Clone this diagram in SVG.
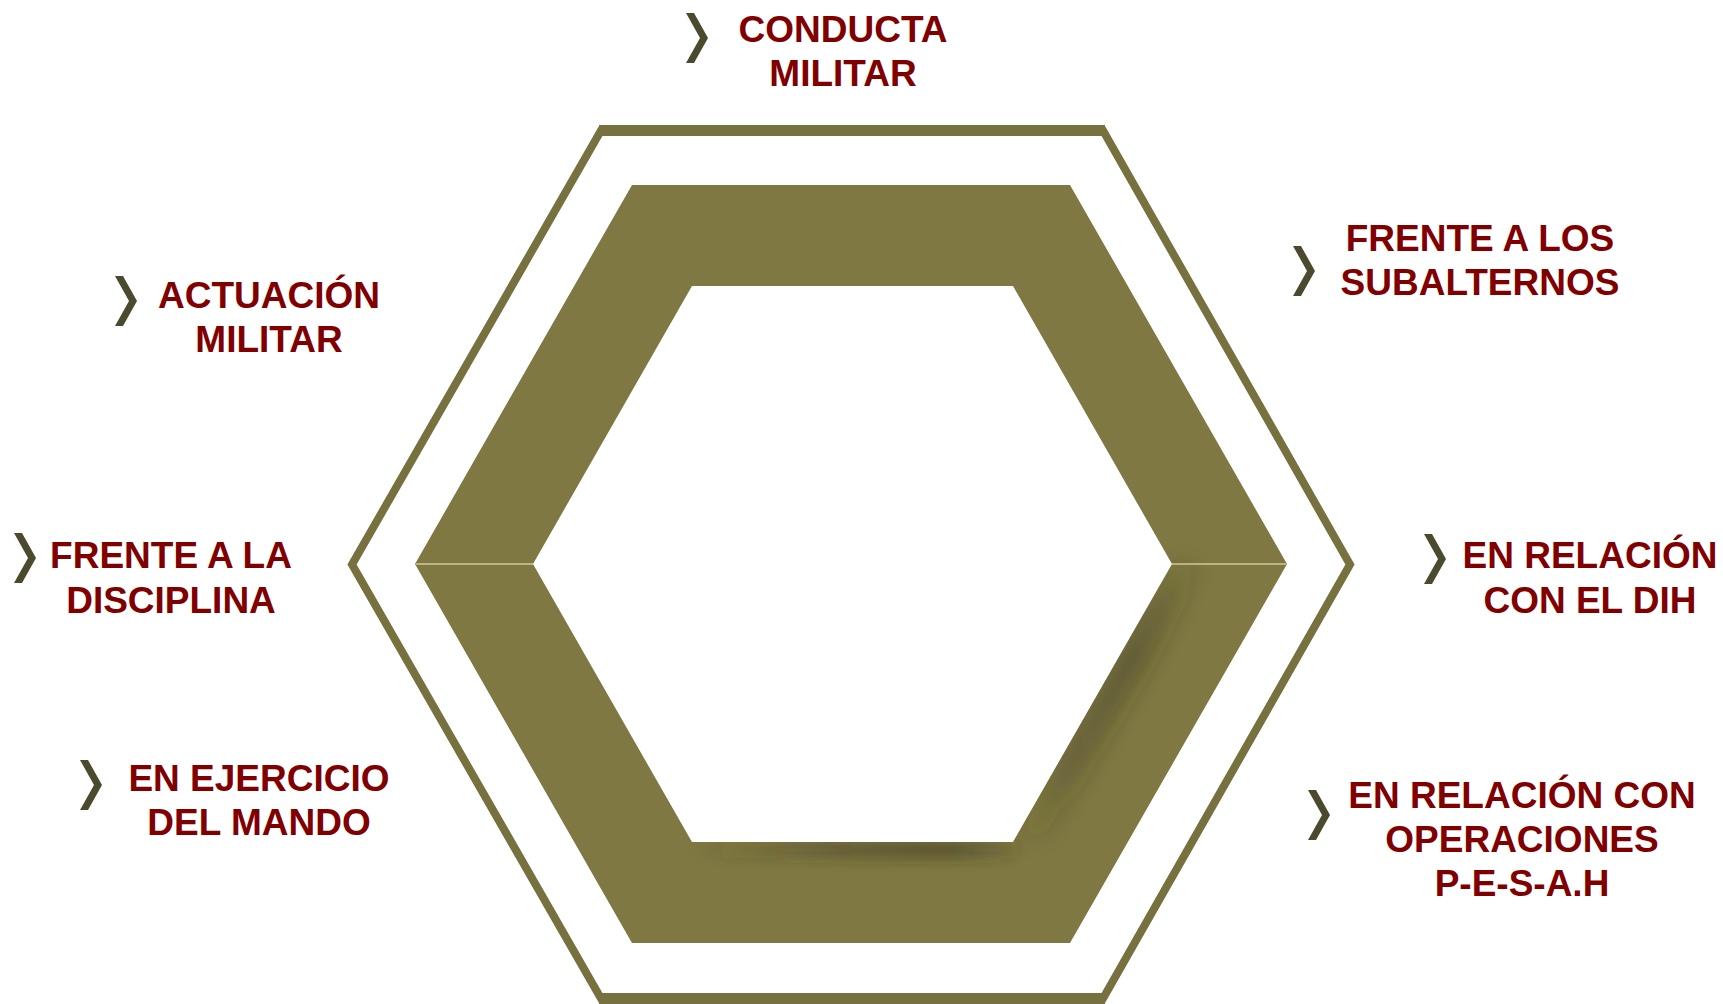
<svg xmlns="http://www.w3.org/2000/svg" width="1723" height="1004" viewBox="0 0 1723 1004">
<style>
.lbl{font-family:"Liberation Sans",Arial,sans-serif;font-weight:bold;font-size:37px;fill:#800000;text-anchor:middle}
.chev{fill:#4b4a2e}
.seam{stroke:#d2c99a;stroke-width:1.6}
</style>
<defs>
<polygon id="chev" points="0,0 8,0 22,25 8,50 0,50 14,25"/>
<clipPath id="bandClip">
<path clip-rule="evenodd" d="M415,564 L632,185 L1070,185 L1287,564 L1070,943 L632,943 Z M533,564 L692,286 L1013,286 L1172,564 L1013,842 L692,842 Z"/>
</clipPath>
<filter id="blurR" filterUnits="userSpaceOnUse" x="950" y="500" width="320" height="420"><feGaussianBlur stdDeviation="13"/></filter>
<filter id="blurB" filterUnits="userSpaceOnUse" x="620" y="800" width="460" height="110"><feGaussianBlur stdDeviation="7"/></filter>
<linearGradient id="shR" x1="1175" y1="570" x2="1020" y2="840" gradientUnits="userSpaceOnUse">
<stop offset="0" stop-color="#2f2c18" stop-opacity="0.15"/>
<stop offset="0.3" stop-color="#2f2c18" stop-opacity="0.5"/>
<stop offset="0.7" stop-color="#2f2c18" stop-opacity="0.35"/>
<stop offset="1" stop-color="#2f2c18" stop-opacity="0.05"/>
</linearGradient>
<linearGradient id="shB" x1="690" y1="0" x2="1015" y2="0" gradientUnits="userSpaceOnUse">
<stop offset="0" stop-color="#2f2c18" stop-opacity="0"/>
<stop offset="0.5" stop-color="#2f2c18" stop-opacity="0.4"/>
<stop offset="0.8" stop-color="#2f2c18" stop-opacity="0.5"/>
<stop offset="1" stop-color="#2f2c18" stop-opacity="0.15"/>
</linearGradient>
</defs>
<rect width="1723" height="1004" fill="#ffffff"/>

<g id="hexagon">
<polygon points="352,564.5 601,130.5 1103,130.5 1350,564.5 1103,998.5 601,998.5" fill="none" stroke="#77713f" stroke-width="8" stroke-linejoin="miter"/>
<line x1="599" y1="130.5" x2="1105" y2="130.5" stroke="#77713f" stroke-width="11"/>
<line x1="599" y1="998.5" x2="1105" y2="998.5" stroke="#77713f" stroke-width="11"/>
<path fill="#7f7842" fill-rule="evenodd" d="M415,564 L632,185 L1070,185 L1287,564 L1070,943 L632,943 Z M533,564 L692,286 L1013,286 L1172,564 L1013,842 L692,842 Z"/>
<g clip-path="url(#bandClip)">
<polygon points="1172,564 1200,564 1041,842 1013,842" fill="url(#shR)" filter="url(#blurR)"/>
<rect x="692" y="842" width="325" height="16" fill="url(#shB)" filter="url(#blurB)"/>
</g>
<line class="seam" x1="416" y1="564" x2="533" y2="564"/>
<line class="seam" x1="1172" y1="564" x2="1286" y2="564"/>
</g>

<g id="node-conducta">
<use href="#chev" class="chev" x="686" y="13"/>
<text class="lbl" x="843" y="42">CONDUCTA</text>
<text class="lbl" x="843" y="86">MILITAR</text>
</g>
<g id="node-actuacion">
<use href="#chev" class="chev" x="115" y="276"/>
<text class="lbl" x="269" y="308">ACTUACIÓN</text>
<text class="lbl" x="269" y="352">MILITAR</text>
</g>
<g id="node-subalternos">
<use href="#chev" class="chev" x="1293" y="246"/>
<text class="lbl" x="1480" y="251">FRENTE A LOS</text>
<text class="lbl" x="1480" y="295">SUBALTERNOS</text>
</g>
<g id="node-disciplina">
<use href="#chev" class="chev" x="14" y="533"/>
<text class="lbl" x="171" y="568">FRENTE A LA</text>
<text class="lbl" x="171" y="613">DISCIPLINA</text>
</g>
<g id="node-dih">
<use href="#chev" class="chev" x="1424" y="534"/>
<text class="lbl" x="1590" y="568">EN RELACIÓN</text>
<text class="lbl" x="1590" y="613">CON EL DIH</text>
</g>
<g id="node-mando">
<use href="#chev" class="chev" x="80" y="760"/>
<text class="lbl" x="259" y="791">EN EJERCICIO</text>
<text class="lbl" x="259" y="835">DEL MANDO</text>
</g>
<g id="node-operaciones">
<use href="#chev" class="chev" x="1308" y="790"/>
<text class="lbl" x="1522" y="808">EN RELACIÓN CON</text>
<text class="lbl" x="1522" y="852">OPERACIONES</text>
<text class="lbl" x="1522" y="896">P-E-S-A.H</text>
</g>
<g id="connectors"></g>
</svg>
